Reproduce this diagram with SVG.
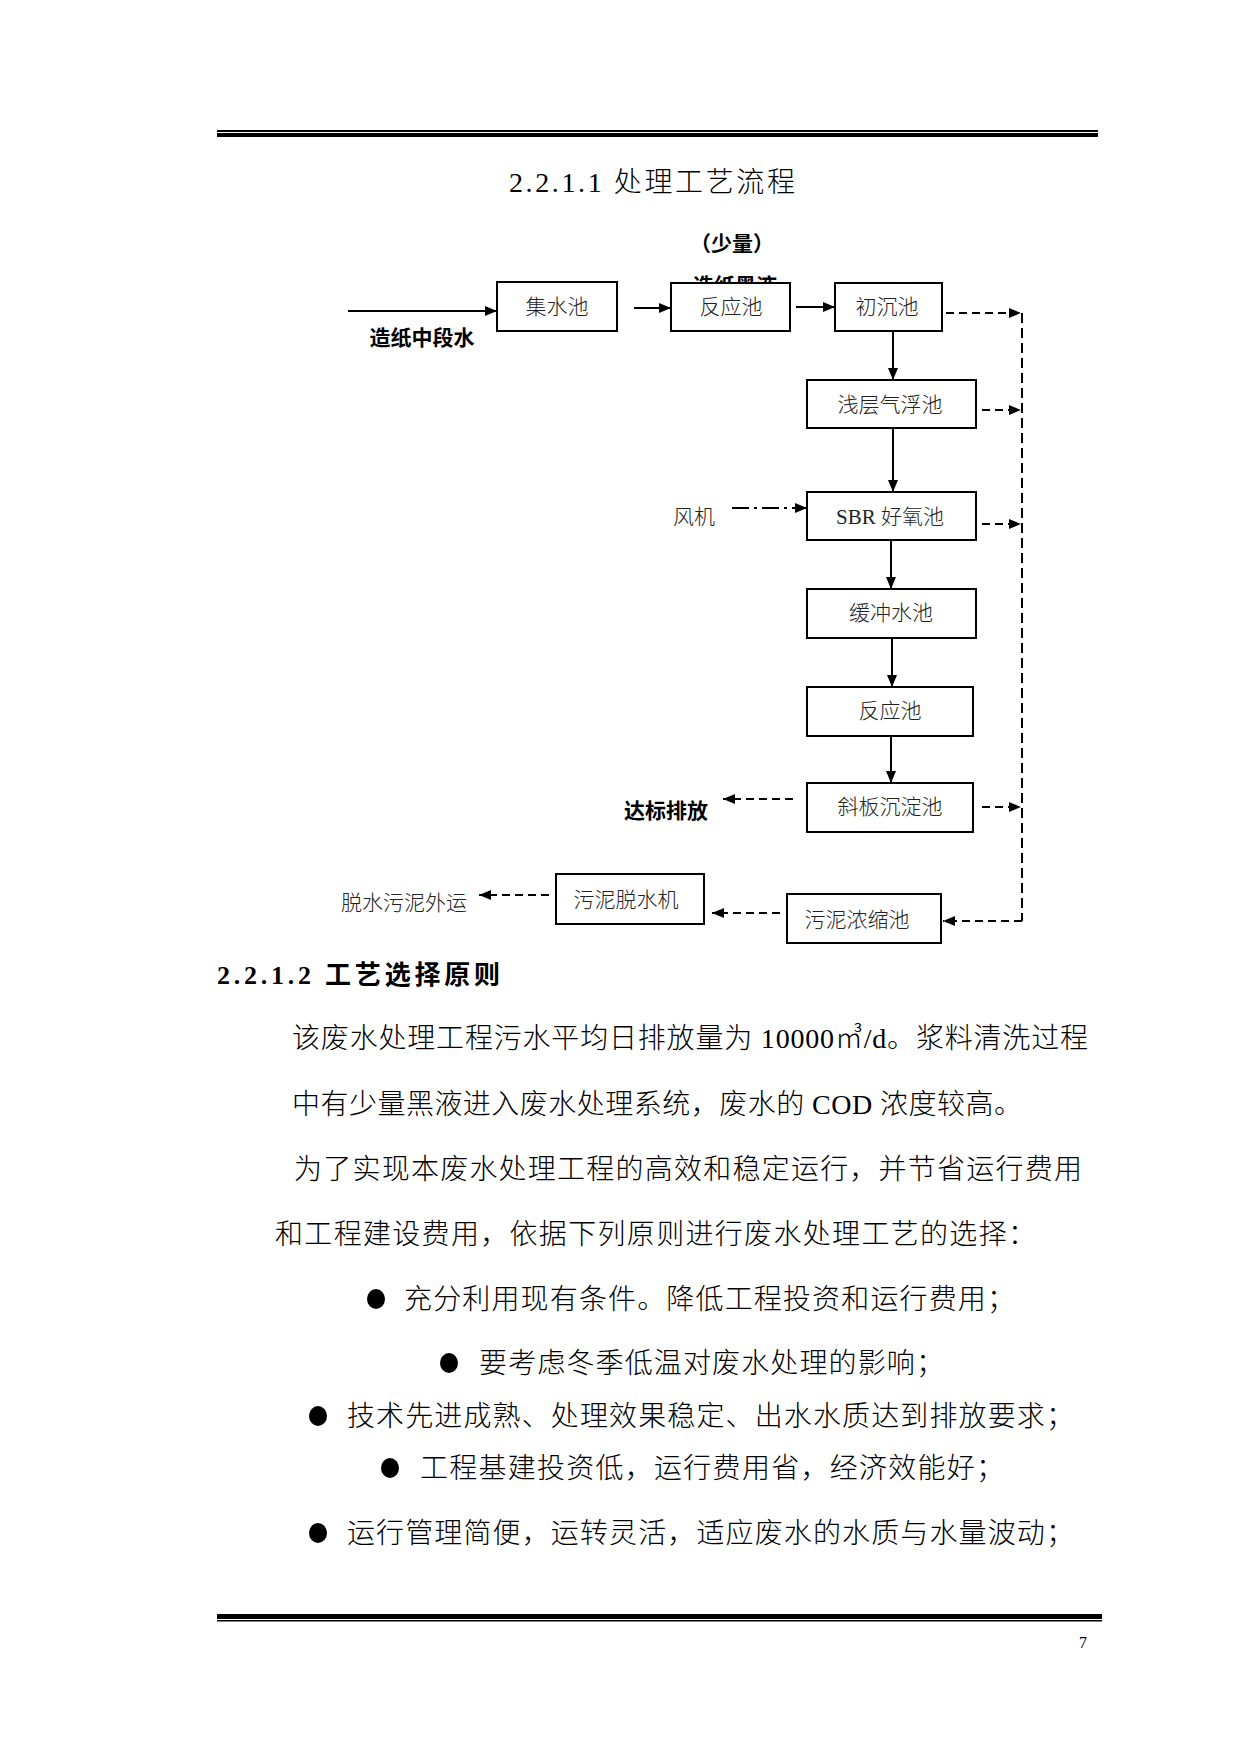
<svg xmlns="http://www.w3.org/2000/svg" width="1241" height="1754" viewBox="0 0 1241 1754">
<style>
.bg{fill:#fff}
.rule{fill:#000}
.box{fill:#fff;stroke:#000;stroke-width:2}
.lbl{font-family:"Liberation Serif","Noto Sans CJK SC",serif;font-size:21px;font-weight:300;fill:#222;text-anchor:middle;dominant-baseline:central}
.bold{font-family:"Liberation Sans","Noto Sans CJK SC",sans-serif;font-size:21px;font-weight:700;fill:#000;text-anchor:middle;dominant-baseline:central}
.body{font-family:"Liberation Serif","Noto Sans CJK SC",serif;font-size:28px;font-weight:300;fill:#000;dominant-baseline:central}
.head{font-family:"Liberation Serif","Noto Sans CJK SC",serif;font-size:26px;font-weight:700;fill:#000;dominant-baseline:central}
.solid{stroke:#000;stroke-width:2;fill:none}
.dash{stroke:#000;stroke-width:2;fill:none;stroke-dasharray:8 5}
.vdash{stroke:#000;stroke-width:2;fill:none;stroke-dasharray:10 5}
.dashdot{stroke:#000;stroke-width:2;fill:none;stroke-dasharray:17 5 3 5}
</style>
<defs>
<marker id="ah" markerUnits="userSpaceOnUse" markerWidth="13" markerHeight="11" refX="12" refY="5.5" orient="auto">
<path d="M0,0.5 L12,5.5 L0,10.5 z" fill="#000"/>
</marker>
</defs>
<rect class="bg" x="0" y="0" width="1241" height="1754"/>

<!-- header rules -->
<rect class="rule" x="217" y="130" width="881" height="2"/>
<rect class="rule" x="217" y="133" width="881" height="4"/>

<text class="body" x="509" y="182" font-size="27" textLength="286" lengthAdjust="spacing">2.2.1.1 处理工艺流程</text>

<!-- labels -->
<text class="bold" x="732" y="243">（少量）</text>
<text class="bold" x="735" y="285">造纸黑液</text>
<text class="bold" x="422" y="337" font-size="22">造纸中段水</text>
<text class="lbl" x="694" y="517">风机</text>
<text class="bold" x="666" y="810">达标排放</text>
<text class="lbl" x="404" y="903">脱水污泥外运</text>

<!-- connectors -->
<g id="connectors">
<line class="solid" x1="348" y1="311" x2="497" y2="311" stroke-width="3" marker-end="url(#ah)"/>
<line class="solid" x1="634" y1="308" x2="671" y2="308" marker-end="url(#ah)"/>
<line class="solid" x1="796" y1="307" x2="835" y2="307" marker-end="url(#ah)"/>
<line class="solid" x1="893" y1="331" x2="893" y2="380" marker-end="url(#ah)"/>
<line class="solid" x1="893" y1="428" x2="893" y2="492" stroke-width="3" marker-end="url(#ah)"/>
<line class="solid" x1="891" y1="540" x2="891" y2="589" marker-end="url(#ah)"/>
<line class="solid" x1="892" y1="638" x2="892" y2="687" marker-end="url(#ah)"/>
<line class="solid" x1="891" y1="736" x2="891" y2="783" marker-end="url(#ah)"/>
<line class="dashdot" x1="732" y1="508" x2="807" y2="508" marker-end="url(#ah)"/>
<line class="dash" x1="946" y1="313" x2="1021" y2="313" marker-end="url(#ah)"/>
<line class="dash" x1="982" y1="410" x2="1021" y2="410" marker-end="url(#ah)"/>
<line class="dash" x1="982" y1="524" x2="1021" y2="524" marker-end="url(#ah)"/>
<line class="dash" x1="982" y1="807" x2="1021" y2="807" marker-end="url(#ah)"/>
<line class="vdash" x1="1022" y1="313" x2="1022" y2="921"/>
<line class="dash" x1="1022" y1="921" x2="943" y2="921" marker-end="url(#ah)"/>
<line class="dash" x1="793" y1="799" x2="723" y2="799" marker-end="url(#ah)"/>
<line class="dash" x1="780" y1="913" x2="712" y2="913" marker-end="url(#ah)"/>
<line class="dash" x1="549" y1="895" x2="479" y2="895" marker-end="url(#ah)"/>
</g>

<!-- nodes -->
<g id="n1"><rect class="box" x="497" y="282" width="120" height="49"/><text class="lbl" x="557" y="307">集水池</text></g>
<g id="n2"><rect class="box" x="671" y="283" width="119" height="48"/><text class="lbl" x="731" y="307">反应池</text></g>
<g id="n3"><rect class="box" x="835" y="283" width="107" height="48"/><text class="lbl" x="887" y="307">初沉池</text></g>
<g id="n4"><rect class="box" x="807" y="380" width="169" height="48"/><text class="lbl" x="890" y="405">浅层气浮池</text></g>
<g id="n5"><rect class="box" x="807" y="492" width="169" height="48"/><text class="lbl" x="890" y="517">SBR 好氧池</text></g>
<g id="n6"><rect class="box" x="807" y="589" width="169" height="49"/><text class="lbl" x="891" y="613">缓冲水池</text></g>
<g id="n7"><rect class="box" x="807" y="687" width="166" height="49"/><text class="lbl" x="890" y="711">反应池</text></g>
<g id="n8"><rect class="box" x="807" y="783" width="166" height="49"/><text class="lbl" x="890" y="807">斜板沉淀池</text></g>
<g id="n9"><rect class="box" x="787" y="894" width="154" height="49"/><text class="lbl" x="857" y="920">污泥浓缩池</text></g>
<g id="n10"><rect class="box" x="556" y="874" width="148" height="50"/><text class="lbl" x="626" y="900">污泥脱水机</text></g>

<!-- body text -->
<text class="head" x="217" y="975" textLength="283" lengthAdjust="spacing">2.2.1.2 工艺选择原则</text>
<text class="body" x="292" y="1038" textLength="796" lengthAdjust="spacing">该废水处理工程污水平均日排放量为 10000㎥/d。浆料清洗过程</text>
<text class="body" x="292" y="1104" textLength="730" lengthAdjust="spacing">中有少量黑液进入废水处理系统，废水的 COD 浓度较高。</text>
<text class="body" x="294" y="1169" textLength="788" lengthAdjust="spacing">为了实现本废水处理工程的高效和稳定运行，并节省运行费用</text>
<text class="body" x="275" y="1234" textLength="761" lengthAdjust="spacing">和工程建设费用，依据下列原则进行废水处理工艺的选择：</text>

<ellipse cx="376" cy="1299" rx="9" ry="10" fill="#000"/>
<text class="body" x="404" y="1299" textLength="611" lengthAdjust="spacing">充分利用现有条件。降低工程投资和运行费用；</text>
<ellipse cx="449" cy="1363" rx="9" ry="10" fill="#000"/>
<text class="body" x="479" y="1363" textLength="465" lengthAdjust="spacing">要考虑冬季低温对废水处理的影响；</text>
<ellipse cx="318" cy="1416" rx="9" ry="10" fill="#000"/>
<text class="body" x="347" y="1416" textLength="727" lengthAdjust="spacing">技术先进成熟、处理效果稳定、出水水质达到排放要求；</text>
<ellipse cx="390" cy="1468" rx="9" ry="10" fill="#000"/>
<text class="body" x="420" y="1468" textLength="584" lengthAdjust="spacing">工程基建投资低，运行费用省，经济效能好；</text>
<ellipse cx="318" cy="1533" rx="9" ry="10" fill="#000"/>
<text class="body" x="347" y="1533" textLength="727" lengthAdjust="spacing">运行管理简便，运转灵活，适应废水的水质与水量波动；</text>

<!-- footer rules -->
<rect class="rule" x="217" y="1614" width="885" height="5"/>
<rect class="rule" x="217" y="1620" width="885" height="1.5"/>
<text x="1083" y="1642" font-family="Liberation Serif, serif" font-size="16" text-anchor="middle" dominant-baseline="central" fill="#000">7</text>
</svg>
